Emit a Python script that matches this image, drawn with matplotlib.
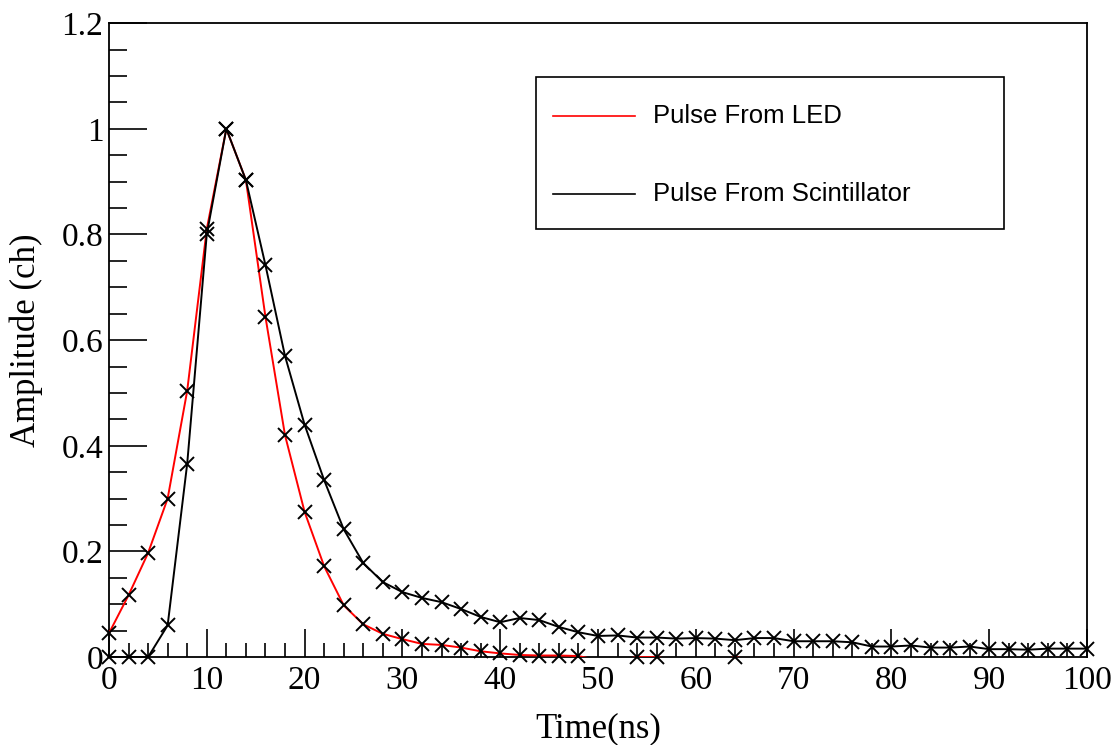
import numpy as np
import matplotlib.pyplot as plt
from matplotlib.lines import Line2D
from matplotlib.patches import Rectangle
from matplotlib.ticker import MultipleLocator, FormatStrFormatter

# sample times (ns), one every 2 ns
time_ns = np.arange(0, 101, 2)

# LED pulse, normalised; small negative values sit under the axis
led_amp = [0.045, 0.117, 0.197, 0.300, 0.504, 0.810, 1.000, 0.903, 0.644, 0.420,
           0.275, 0.172, 0.098, 0.062, 0.044, 0.034, 0.025, 0.023, 0.018, 0.011,
           0.007, 0.004, 0.003, 0.003, 0.002, -0.006, -0.006, 0.0, 0.0, -0.006,
           -0.008, -0.008, 0.0, -0.006, -0.008, -0.008, -0.008, -0.008, -0.008, -0.008,
           -0.008, -0.008, -0.008, -0.008, -0.008, -0.008, -0.008, -0.008, -0.008, -0.008,
           -0.008]

# scintillator pulse, normalised
scint_amp = [0.0, 0.0, 0.0, 0.060, 0.366, 0.800, 1.000, 0.903, 0.742, 0.570,
             0.440, 0.335, 0.242, 0.178, 0.142, 0.123, 0.112, 0.104, 0.091, 0.076,
             0.066, 0.074, 0.070, 0.057, 0.047, 0.040, 0.041, 0.037, 0.037, 0.035,
             0.036, 0.035, 0.032, 0.036, 0.036, 0.030, 0.030, 0.030, 0.028, 0.020,
             0.020, 0.022, 0.018, 0.018, 0.020, 0.015, 0.015, 0.014, 0.016, 0.016,
             0.016]

fig = plt.figure(figsize=(11.14, 7.45), dpi=100)
ax = fig.add_axes([0.0978, 0.118, 0.878, 0.851])

for amp, col in [(led_amp, 'red'), (scint_amp, 'black')]:
    amp = np.array(amp)
    ax.plot(time_ns, amp, color=col, lw=1.4, zorder=3)
    # markers are not clipped by the frame, points below zero are dropped
    keep = amp >= 0
    ax.plot(time_ns[keep], amp[keep], ls='none', marker='x', ms=10.5, mec='black',
            mew=1.4, clip_on=False, zorder=4)

ax.set_xlim(0, 100)
ax.set_ylim(0, 1.2)

ax.xaxis.set_major_locator(MultipleLocator(10))
ax.xaxis.set_minor_locator(MultipleLocator(2))
ax.yaxis.set_major_locator(MultipleLocator(0.2))
ax.yaxis.set_minor_locator(MultipleLocator(0.05))
ax.yaxis.set_major_formatter(FormatStrFormatter('%g'))

ax.tick_params(which='both', direction='in', top=False, right=False, width=1.2,
               labelsize=24, labelfontfamily='Liberation Serif')
ax.tick_params(axis='x', which='major', length=20, pad=6)
ax.tick_params(axis='x', which='minor', length=10)
ax.tick_params(axis='y', which='major', length=27, pad=4)
ax.tick_params(axis='y', which='minor', length=13)
for side in ax.spines.values():
    side.set_linewidth(1.3)

ax.set_xlabel('Time(ns)', fontsize=25, family='Liberation Serif')
ax.set_ylabel('Amplitude (ch)', fontsize=25, family='Liberation Serif')
ax.xaxis.set_label_coords(0.5, -0.087)
ax.yaxis.set_label_coords(-0.0675, 0.5)

# legend box
tr = ax.transAxes
ax.add_patch(Rectangle((0.437, 0.675), 0.478, 0.24, transform=tr, fill=False,
                       ec='black', lw=1.2, zorder=5))
rows = [('Pulse From LED', 'red', 0.853), ('Pulse From Scintillator', 'black', 0.731)]
for label, col, yy in rows:
    ax.add_line(Line2D([0.454, 0.538], [yy, yy], transform=tr, color=col, lw=1.2, zorder=5))
    ax.text(0.556, yy, label, transform=tr, va='center', ha='left', fontsize=18.5,
            family='Liberation Sans', zorder=5)

fig.savefig('out.png', dpi=100)
